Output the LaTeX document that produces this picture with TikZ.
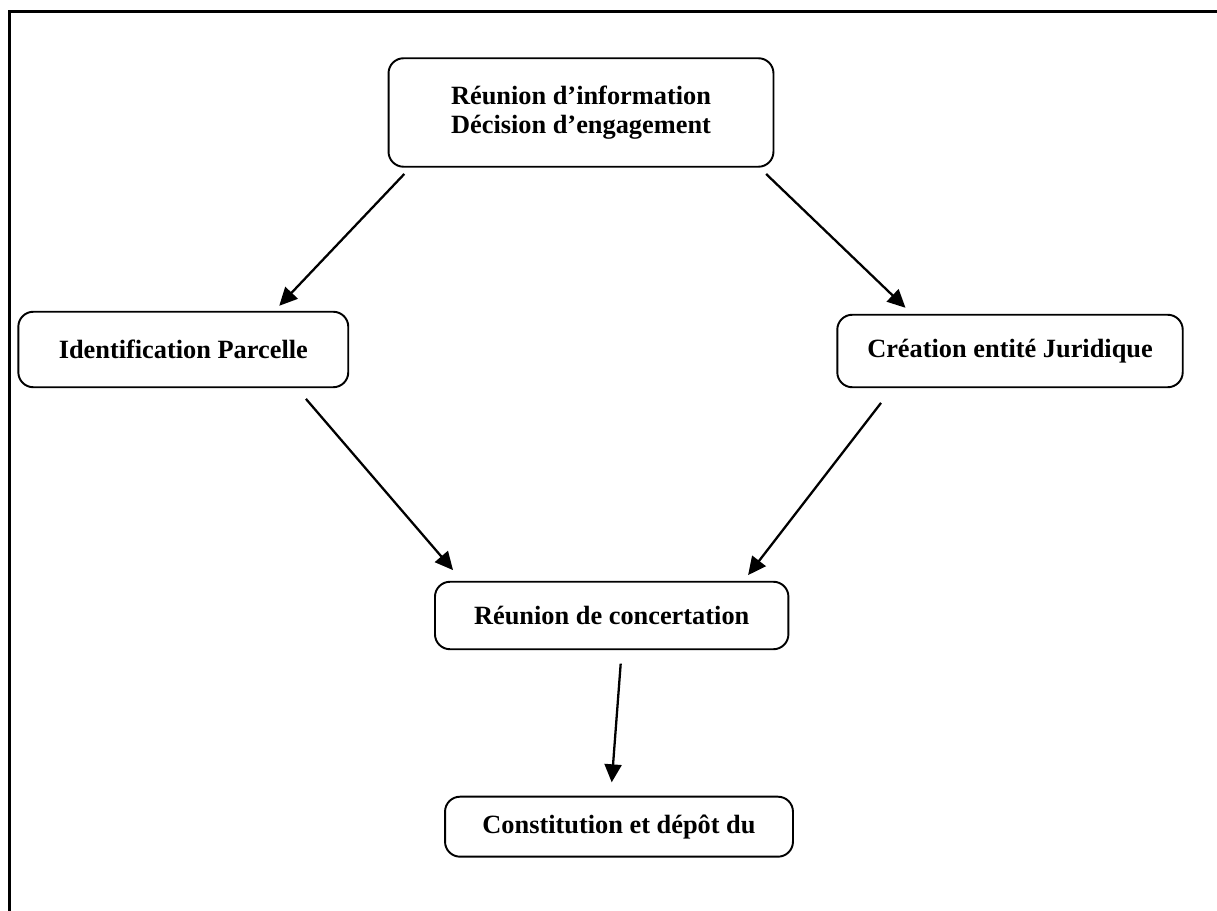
\documentclass[tikz,border=0pt]{standalone}
\usepackage{fontspec}
\setmainfont{Liberation Serif}
\usetikzlibrary{arrows.meta}
\tikzset{>={Triangle[length=0.36cm,width=0.34cm]}}
\tikzset{
  etape/.style={draw, line width=1.1pt, rounded corners=0.3cm, align=center,
    font=\fontsize{15pt}{16.5pt}\selectfont\bfseries, inner sep=0pt},
  fleche/.style={->, line width=1.3pt}
}

\begin{document}
\begin{tikzpicture}[x=0.02cm, y=-0.02cm]
        \useasboundingbox (0,0) rectangle (1217,911);
        % Frame (open on the right and at the bottom)
        \draw[line width=1.7pt] (9.5,911) -- (9.5,12) -- (1217,12);

        % Top box
        \node[etape, minimum width=7.7cm, minimum height=2.17cm] (info) at (581,112.5)
            {R\'eunion d'information\\D\'ecision d'engagement};

        % Boxes in the middle row
        \node[etape, minimum width=6.6cm, minimum height=1.51cm] (parcelle) at (183.3,349.5)
            {Identification Parcelle};
        \node[etape, minimum width=6.91cm, minimum height=1.45cm] (entite) at (1010,351)
            {Cr\'eation entit\'e Juridique};

        % Lower boxes
        \node[etape, minimum width=7.07cm, minimum height=1.35cm] (concert) at (611.7,615.5)
            {R\'eunion de concertation};
        \node[etape, minimum width=6.96cm, minimum height=1.2cm] (depot) at (619,826.7)
            {Constitution et d\'ep\^ot du};

        % Arrows
        \draw[fleche] ([shift={(16.7,6.3)}]info.south west) -- ([shift={(-70,-5)}]parcelle.north east);
        \draw[fleche] ([shift={(-8.3,6.3)}]info.south east) -- ([shift={(69.2,-6)}]entite.north west);
        \draw[fleche] ([shift={(-43.3,10.7)}]parcelle.south east) -- ([shift={(19,-10.7)}]concert.north west);
        \draw[fleche] ([shift={(44.7,14.7)}]entite.south west) -- ([shift={(-41.3,-5.7)}]concert.north east);
        \draw[fleche] ([shift={(9,13.4)}]concert.south) -- ([shift={(-7.3,-13.4)}]depot.north);
\end{tikzpicture}
\end{document}
